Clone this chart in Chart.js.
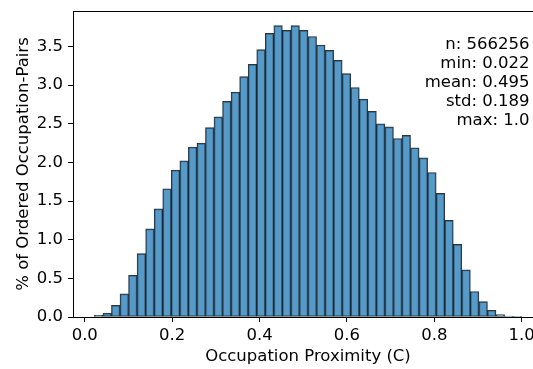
<!DOCTYPE html>
<html>
<head>
<meta charset="utf-8">
<script src="https://cdn.jsdelivr.net/npm/chart.js@4.4.1/dist/chart.umd.min.js"></script>
<style>
  html, body { margin: 0; padding: 0; background: #fff; overflow: hidden; }
  #wrap { width: 533px; height: 369px; overflow: hidden; }
</style>
</head>
<body>
<div id="wrap"><canvas id="hist" width="545" height="369"></canvas></div>
<script>
// histogram: 50 bins between min and max
const binStart = 0.022;
const binWidth = 0.01956;
const percents = [
  0.02, 0.05, 0.15, 0.30, 0.54, 0.82, 1.14, 1.40, 1.66, 1.90,
  2.02, 2.20, 2.25, 2.45, 2.59, 2.79, 2.91, 3.11, 3.27, 3.46,
  3.67, 3.77, 3.71, 3.77, 3.71, 3.63, 3.52, 3.45, 3.32, 3.15,
  2.97, 2.82, 2.66, 2.50, 2.46, 2.31, 2.35, 2.19, 2.06, 1.87,
  1.60, 1.25, 0.94, 0.61, 0.33, 0.20, 0.087, 0.03, 0.012, 0.005
];
const xTicks = [0, 0.2, 0.4, 0.6, 0.8, 1.0];
const yTicks = [0, 0.5, 1.0, 1.5, 2.0, 2.5, 3.0, 3.5];
const statsLines = ['n: 566256', 'min: 0.022', 'mean: 0.495', 'std: 0.189', 'max: 1.0'];

const FONT = 'DejaVu Sans';
const FS = 16.5;

const points = percents.map((v, i) => ({ x: binStart + (i + 0.5) * binWidth, y: v }));

const extras = {
  id: 'extras',
  afterDraw(chart) {
    const { ctx, chartArea } = chart;
    ctx.save();
    // top spine
    ctx.strokeStyle = '#000';
    ctx.lineWidth = 1;
    ctx.beginPath();
    ctx.moveTo(chartArea.left, chartArea.top + 0.5);
    ctx.lineTo(chartArea.right, chartArea.top + 0.5);
    ctx.stroke();
    // stats box
    ctx.fillStyle = '#000';
    ctx.font = FS + 'px "' + FONT + '"';
    ctx.textAlign = 'right';
    ctx.textBaseline = 'alphabetic';
    statsLines.forEach((t, i) => ctx.fillText(t, 529.5, 48.5 + i * 19));
    ctx.restore();
  }
};

new Chart(document.getElementById('hist'), {
  type: 'bar',
  data: {
    datasets: [{
      data: points,
      backgroundColor: 'rgba(31, 119, 180, 0.75)',
      borderColor: 'rgba(0, 0, 0, 0.8)',
      borderWidth: 1,
      borderSkipped: false,
      barPercentage: 1.0,
      categoryPercentage: 1.0
    }]
  },
  options: {
    responsive: false,
    animation: false,
    events: [],
    layout: { padding: { top: 11, right: 2, left: 0, bottom: 0 } },
    plugins: {
      legend: { display: false },
      tooltip: { enabled: false }
    },
    scales: {
      x: {
        type: 'linear',
        min: -0.0269,
        max: 1.0489,
        offset: false,
        afterBuildTicks: s => { s.ticks = xTicks.map(v => ({ value: v })); },
        afterFit: s => { s.height = 52; s.paddingLeft = 0; s.paddingRight = 0; },
        grid: { display: true, drawOnChartArea: false, offset: false, tickLength: 5, tickColor: '#000' },
        border: { display: true, color: '#000', width: 1 },
        ticks: {
          color: '#000',
          padding: 4,
          maxRotation: 0,
          font: { family: FONT, size: FS },
          callback: v => v.toFixed(1)
        },
        title: {
          display: true,
          text: 'Occupation Proximity (C)',
          color: '#000',
          font: { family: FONT, size: FS },
          padding: { top: 0, bottom: 2 }
        }
      },
      y: {
        min: 0,
        max: 3.96,
        afterBuildTicks: s => { s.ticks = yTicks.map(v => ({ value: v })); },
        afterFit: s => { s.width = 73; s.paddingTop = 0; s.paddingBottom = 0; },
        grid: { display: true, drawOnChartArea: false, tickLength: 5, tickColor: '#000' },
        border: { display: true, color: '#000', width: 1 },
        ticks: {
          color: '#000',
          padding: 5,
          font: { family: FONT, size: FS },
          callback: v => v.toFixed(1)
        },
        title: {
          display: true,
          text: '% of Ordered Occupation-Pairs',
          color: '#000',
          font: { family: FONT, size: FS },
          padding: { top: 14, bottom: 0 }
        }
      }
    }
  },
  plugins: [extras]
});
</script>
</body>
</html>
